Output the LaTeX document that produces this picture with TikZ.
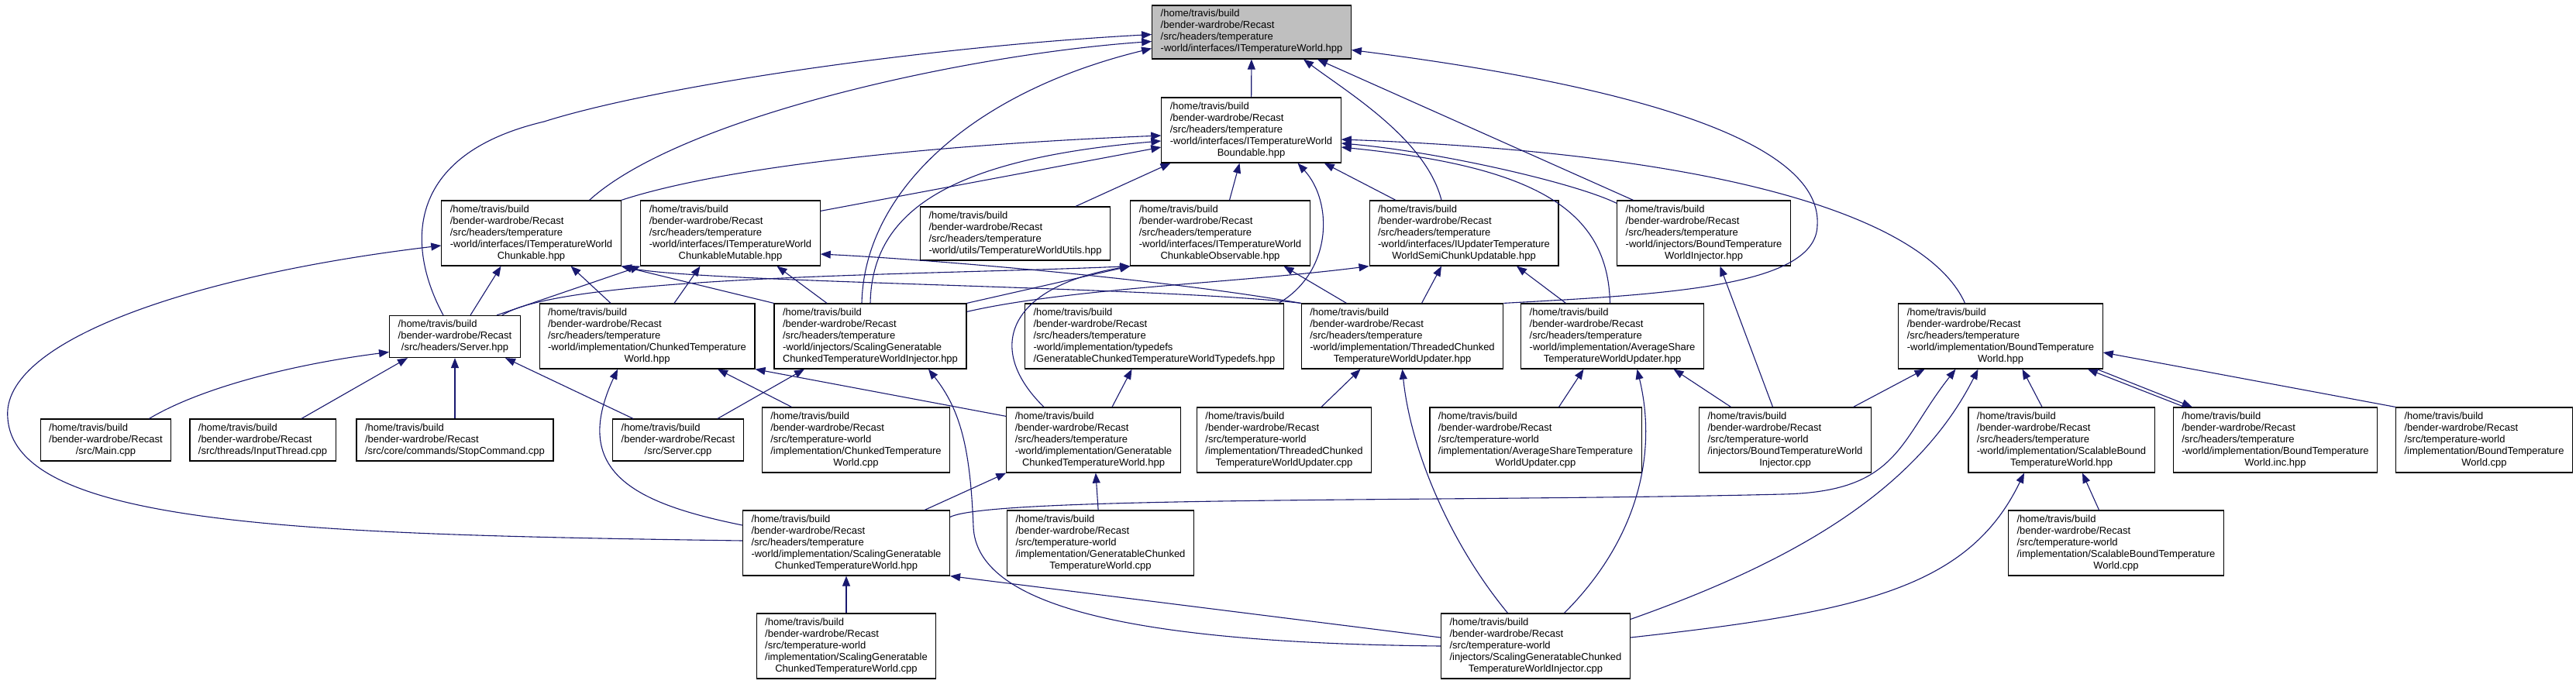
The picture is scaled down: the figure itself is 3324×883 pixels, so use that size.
\documentclass[tikz,border=0pt]{standalone}
\usepackage{fontspec}
\setmainfont{Liberation Sans}
\usepackage{tikz}
\usetikzlibrary{arrows.meta}
\definecolor{edgeBlue}{HTML}{191970}
\definecolor{rootFill}{HTML}{BFBFBF}
% file label: two fixed path lines, middle lines, centred last line
\newcommand{\flbl}[2]{%
	\begin{tabular}{@{}l@{}}/home/travis/build\\/bender-wardrobe/Recast\\#1\multicolumn{1}{@{}c@{}}{#2}\end{tabular}}

\begin{document}
\begin{tikzpicture}[
		x=1pt, y=-1pt,
		%--- Node Styles ---------------------------------------------------
		file/.style={
			rectangle,
			draw=black,
			line width=1.2pt,
			fill=white,
			inner xsep=11pt,
			inner ysep=4.5pt,
			font=\fontsize{13}{15}\selectfont
		},
		rootfile/.style={
			file,
			fill=rootFill
		},
		%--- Arrow Styles --------------------------------------------------
		dep/.style={
			-{Triangle[length=13pt,width=10pt]},
			line width=1.1pt,
			draw=edgeBlue
		}
		]
		
		\path[use as bounding box, fill=white] (0,0) rectangle (3324,883);
		
		%--- Row 0 and 1 ---------------------------------------------------
		
		\node[rootfile] (itw) at (1615,41.5)
		{\flbl{/src/headers/temperature\\}{-world/interfaces/ITemperatureWorld.hpp}};
		
		\node[file] (bound) at (1614.5,168)
		{\flbl{/src/headers/temperature\\-world/interfaces/ITemperatureWorld\\}{Boundable.hpp}};
		
		%--- Row 2 ---------------------------------------------------------
		
		\node[file] (chunk) at (685.5,301)
		{\flbl{/src/headers/temperature\\-world/interfaces/ITemperatureWorld\\}{Chunkable.hpp}};
		
		\node[file] (mut) at (942.5,301)
		{\flbl{/src/headers/temperature\\-world/interfaces/ITemperatureWorld\\}{ChunkableMutable.hpp}};
		
		\node[file] (utils) at (1310,301.5)
		{\flbl{/src/headers/temperature\\}{-world/utils/TemperatureWorldUtils.hpp}};
		
		\node[file] (obs) at (1574.5,301)
		{\flbl{/src/headers/temperature\\-world/interfaces/ITemperatureWorld\\}{ChunkableObservable.hpp}};
		
		\node[file] (semi) at (1889,301)
		{\flbl{/src/headers/temperature\\-world/interfaces/IUpdaterTemperature\\}{WorldSemiChunkUpdatable.hpp}};
		
		\node[file] (binj) at (2198.5,301)
		{\flbl{/src/headers/temperature\\-world/injectors/BoundTemperature\\}{WorldInjector.hpp}};
		
		%--- Row 3 ---------------------------------------------------------
		
		\node[file] (server) at (587,434.5)
		{\flbl{}{/src/headers/Server.hpp}};
		
		\node[file] (ctw) at (835,434)
		{\flbl{/src/headers/temperature\\-world/implementation/ChunkedTemperature\\}{World.hpp}};
		
		\node[file] (sginj) at (1123,434)
		{\flbl{/src/headers/temperature\\-world/injectors/ScalingGeneratable\\}{ChunkedTemperatureWorldInjector.hpp}};
		
		\node[file] (tdefs) at (1489.5,434)
		{\flbl{/src/headers/temperature\\-world/implementation/typedefs\\}{/GeneratableChunkedTemperatureWorldTypedefs.hpp}};
		
		\node[file] (tcu) at (1809.5,434)
		{\flbl{/src/headers/temperature\\-world/implementation/ThreadedChunked\\}{TemperatureWorldUpdater.hpp}};
		
		\node[file] (asu) at (2080.5,434)
		{\flbl{/src/headers/temperature\\-world/implementation/AverageShare\\}{TemperatureWorldUpdater.hpp}};
		
		\node[file] (btw) at (2581.5,434)
		{\flbl{/src/headers/temperature\\-world/implementation/BoundTemperature\\}{World.hpp}};
		
		%--- Row 4 ---------------------------------------------------------
		
		\node[file] (main) at (136.5,568) {\flbl{}{/src/Main.cpp}};
		\node[file] (input) at (339,568) {\flbl{}{/src/threads/InputThread.cpp}};
		\node[file] (stop) at (587,568) {\flbl{}{/src/core/commands/StopCommand.cpp}};
		\node[file] (servercpp) at (875,568) {\flbl{}{/src/Server.cpp}};
		
		\node[file] (ctwcpp) at (1104.5,568)
		{\flbl{/src/temperature-world\\/implementation/ChunkedTemperature\\}{World.cpp}};
		
		\node[file] (gctw) at (1411,568)
		{\flbl{/src/headers/temperature\\-world/implementation/Generatable\\}{ChunkedTemperatureWorld.hpp}};
		
		\node[file] (tcucpp) at (1657,568)
		{\flbl{/src/temperature-world\\/implementation/ThreadedChunked\\}{TemperatureWorldUpdater.cpp}};
		
		\node[file] (asucpp) at (1981.5,568)
		{\flbl{/src/temperature-world\\/implementation/AverageShareTemperature\\}{WorldUpdater.cpp}};
		
		\node[file] (binjcpp) at (2303.5,568)
		{\flbl{/src/temperature-world\\/injectors/BoundTemperatureWorld\\}{Injector.cpp}};
		
		\node[file] (sbtw) at (2660,568)
		{\flbl{/src/headers/temperature\\-world/implementation/ScalableBound\\}{TemperatureWorld.hpp}};
		
		\node[file] (btwinc) at (2936,568)
		{\flbl{/src/headers/temperature\\-world/implementation/BoundTemperature\\}{World.inc.hpp}};
		
		\node[file] (btwcpp) at (3205.5,568)
		{\flbl{/src/temperature-world\\/implementation/BoundTemperature\\}{World.cpp}};
		
		%--- Row 5 and 6 ---------------------------------------------------
		
		\node[file] (sgctw) at (1092,701)
		{\flbl{/src/headers/temperature\\-world/implementation/ScalingGeneratable\\}{ChunkedTemperatureWorld.hpp}};
		
		\node[file] (gctwcpp) at (1420,701)
		{\flbl{/src/temperature-world\\/implementation/GeneratableChunked\\}{TemperatureWorld.cpp}};
		
		\node[file] (sbtwcpp) at (2730.5,701)
		{\flbl{/src/temperature-world\\/implementation/ScalableBoundTemperature\\}{World.cpp}};
		
		\node[file] (sgctwcpp) at (1092,834)
		{\flbl{/src/temperature-world\\/implementation/ScalingGeneratable\\}{ChunkedTemperatureWorld.cpp}};
		
		\node[file] (sginjcpp) at (1981.5,834)
		{\flbl{/src/temperature-world\\/injectors/ScalingGeneratableChunked\\}{TemperatureWorldInjector.cpp}};
		
		%--- Edges into ITemperatureWorld.hpp ------------------------------
		
		\draw[dep] (bound) -- (itw);
		\draw[dep] ([xshift=75pt]chunk.north) .. controls (880,150) and (1250,70) .. ([yshift=-12pt]itw.west);
		\draw[dep] ([xshift=-15pt]server.north) .. controls (525,320) and (520,200) .. (702,157)
		.. controls (850,110) and (1200,60) .. ([yshift=-3pt]itw.west);
		\draw[dep] ([xshift=-11pt]sginj.north) .. controls (1115,250) and (1250,120) .. ([yshift=-21pt]itw.west);
		\draw[dep] ([xshift=-29pt]semi.north) .. controls (1840,180) and (1740,120) .. ([xshift=67pt]itw.south);
		\draw[dep] ([xshift=-91pt]binj.north) -- ([xshift=85pt]itw.south);
		\draw[dep] (tcu.north east) .. controls (2150,380) and (2345,370) .. (2345,290)
		.. controls (2350,200) and (2180,120) .. ([yshift=-23pt]itw.east);
		
		%--- Edges into Boundable.hpp --------------------------------------
		
		\draw[dep] (chunk.north east) .. controls (950,210) and (1250,185) .. ([yshift=-7pt]bound.west);
		\draw[dep] ([yshift=-14pt]mut.north east) -- ([yshift=-22pt]bound.west);
		\draw[dep] (sginj.north) .. controls (1125,270) and (1230,205) .. ([yshift=-14pt]bound.west);
		\draw[dep] ([xshift=78pt]utils.north) -- ([xshift=-104pt]bound.south);
		\draw[dep] ([xshift=12pt]obs.north) -- ([xshift=-15pt]bound.south);
		\draw[dep] ([xshift=-7pt]tdefs.north east) .. controls (1720,350) and (1720,260) .. ([xshift=60pt]bound.south);
		\draw[dep] ([xshift=-88pt]semi.north) -- ([xshift=-22pt]bound.south east);
		\draw[dep] ([yshift=-4pt]binj.north west) .. controls (2030,235) and (1850,195) .. ([yshift=-17pt]bound.east);
		\draw[dep] ([xshift=-3pt]asu.north) .. controls (2075,270) and (1980,215) .. ([yshift=-22pt]bound.east);
		\draw[dep] ([xshift=-46pt]btw.north) .. controls (2490,290) and (2260,200) .. ([yshift=-12pt]bound.east);
		
		%--- Edges into the interface row ----------------------------------
		
		\draw[dep] ([xshift=-47pt]ctw.north) -- ([xshift=51pt]chunk.south);
		\draw[dep] ([xshift=35pt]ctw.north) -- ([xshift=-39pt]mut.south);
		\draw[dep] ([xshift=20pt]server.north) -- ([xshift=-39pt]chunk.south);
		\draw[dep] ([xshift=-31pt]server.north east) -- (mut.south west);
		\draw[dep] ([xshift=-24pt]server.north east) .. controls (730,355) and (1200,355) .. (obs.south west);
		\draw[dep] (sginj.north west) -- (chunk.south east);
		\draw[dep] ([xshift=-56pt]sginj.north) -- ([xshift=60pt]mut.south);
		\draw[dep] (sginj.north east) -- (obs.south west);
		\draw[dep] ([yshift=-11pt]sginj.north east) .. controls (1380,372) and (1600,365) .. (semi.south west);
		\draw[dep] (tcu.north west) .. controls (1500,370) and (900,365) .. (chunk.south east);
		\draw[dep] (tcu.north west) .. controls (1500,360) and (1200,335) .. ([yshift=-27pt]mut.east);
		\draw[dep] ([xshift=-72pt]tcu.north) -- ([xshift=82pt]obs.south);
		\draw[dep] ([xshift=25pt]tcu.north) -- ([xshift=-29pt]semi.south);
		\draw[dep] ([xshift=-60pt]asu.north) -- ([xshift=68pt]semi.south);
		\draw[dep] ([xshift=-16pt]binjcpp.north) -- ([xshift=21pt]binj.south);
		
		%--- Generatable world ---------------------------------------------
		
		\draw[dep] ([yshift=-12pt]gctw.north west) -- (ctw.south east);
		\draw[dep] ([xshift=24pt]gctw.north) -- ([xshift=-29pt]tdefs.south);
		\draw[dep] ([xshift=-64pt]gctw.north) .. controls (1270,450) and (1300,370) .. (obs.south west);
		\draw[dep] (gctwcpp) -- (gctw);
		
		%--- Server and sources --------------------------------------------
		
		\draw[dep] ([xshift=56pt]main.north) .. controls (260,500) and (380,470) .. ([yshift=-20pt]server.west);
		\draw[dep] ([xshift=50pt]input.north) -- ([xshift=-61pt]server.south);
		\draw[dep] (stop) -- (server);
		\draw[dep] ([xshift=-58pt]servercpp.north) -- ([xshift=65pt]server.south);
		\draw[dep] ([xshift=51pt]servercpp.north) -- ([xshift=-85pt]sginj.south);
		\draw[dep] ([xshift=-83pt]ctwcpp.north) -- ([xshift=91pt]ctw.south);
		\draw[dep] ([xshift=48pt]tcucpp.north) -- ([xshift=-54pt]tcu.south);
		\draw[dep] ([xshift=30pt]asucpp.north) -- ([xshift=-37pt]asu.south);
		\draw[dep] ([xshift=-70pt]binjcpp.north) -- ([xshift=79pt]asu.south);
		\draw[dep] ([xshift=88pt]binjcpp.north) -- ([xshift=-98pt]btw.south);
		
		%--- Bound world ---------------------------------------------------
		
		\draw[dep] ([xshift=-25pt]sbtw.north) -- ([xshift=28pt]btw.south);
		\draw[dep] ([xshift=15pt]btwinc.north west) -- ([xshift=-20pt]btw.south east);
		\draw[dep] ([xshift=-8pt]btw.south east) -- ([xshift=25pt]btwinc.north west);
		\draw[dep] (btwcpp.north west) -- ([yshift=-21pt]btw.east);
		\draw[dep] ([xshift=-22pt]sbtwcpp.north) -- ([xshift=27pt]sbtw.south);
		
		%--- Scaling generatable world -------------------------------------
		
		\draw[dep] ([yshift=23pt]sgctw.west) .. controls (820,650) and (735,610) .. ([xshift=-38pt]ctw.south);
		\draw[dep] ([yshift=3pt]sgctw.west) .. controls (400,690) and (20,680) .. (10,540)
		.. controls (0,440) and (250,355) .. ([yshift=-16pt]chunk.west);
		\draw[dep] ([xshift=-33pt]sgctw.north east) -- (gctw.south west);
		\draw[dep] ([yshift=-9pt]sgctw.north east) .. controls (1280,640) and (1900,648) .. (2300,638)
		.. controls (2450,635) and (2450,570) .. ([xshift=-58pt]btw.south);
		\draw[dep] (sgctwcpp) -- (sgctw);
		
		%--- Scaling generatable injector source ---------------------------
		
		\draw[dep] ([yshift=11pt]sginjcpp.west) -- (sgctw.south east);
		\draw[dep] (sginjcpp.west) .. controls (1450,830) and (1260,780) .. (1256,680)
		.. controls (1252,580) and (1240,530) .. ([xshift=75pt]sginj.south);
		\draw[dep] ([xshift=-36pt]sginjcpp.north) .. controls (1870,700) and (1820,580) .. (tcu.south);
		\draw[dep] ([xshift=37pt]sginjcpp.north) .. controls (2110,700) and (2140,590) .. ([xshift=32pt]asu.south);
		\draw[dep] ([yshift=-8pt]sginjcpp.north east) .. controls (2300,730) and (2470,640) .. ([xshift=-29pt]btw.south);
		\draw[dep] ([yshift=11pt]sginjcpp.east) .. controls (2400,790) and (2540,760) .. ([xshift=-48pt]sbtw.south);
		
	\end{tikzpicture}
\end{document}
